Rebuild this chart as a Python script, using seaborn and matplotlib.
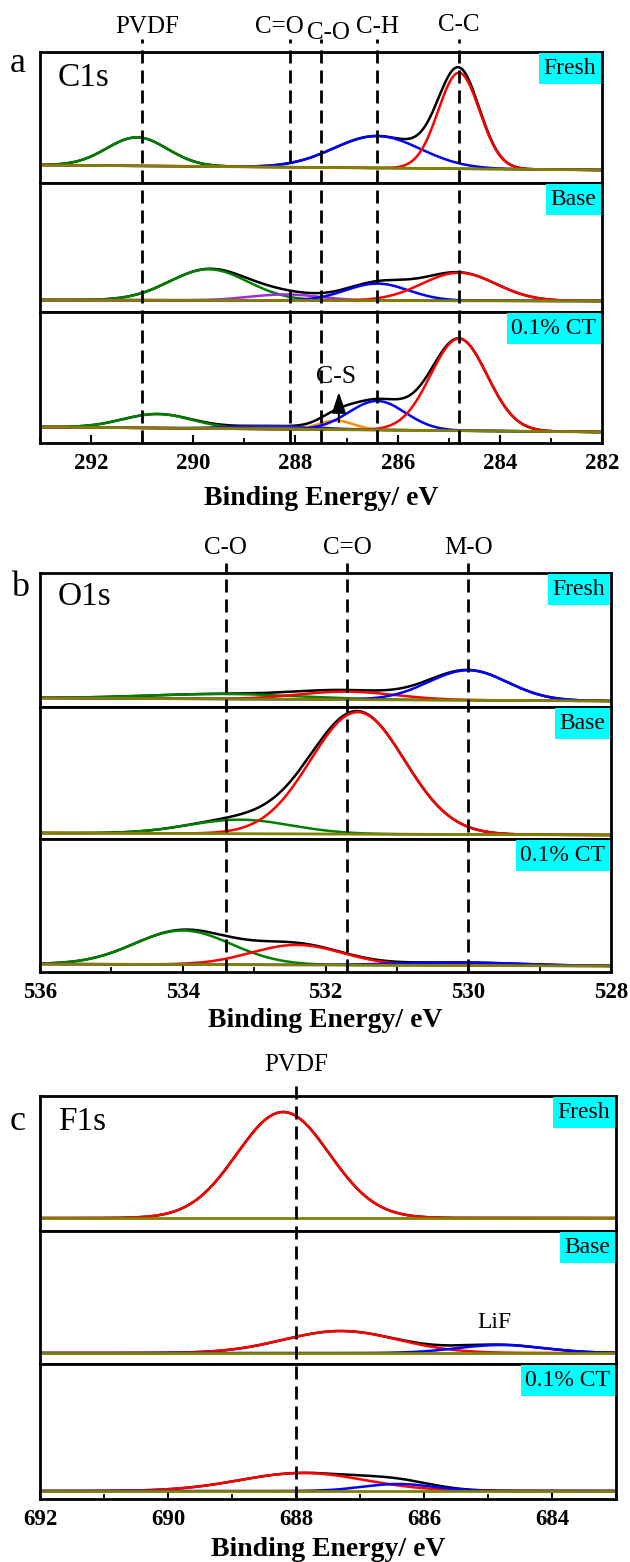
import numpy as np
import matplotlib
matplotlib.use("Agg")
import matplotlib.pyplot as plt
import matplotlib.transforms as mtransforms
from matplotlib.lines import Line2D
from matplotlib.ticker import MultipleLocator
import seaborn as sns

# ====================== DATA ======================
SAMPLES = ["Fresh", "Base", "0.1% CT"]

# ---- C1s ----
C1S_XLIM = (293.0, 282.0)
C1S_TICKS = [292, 290, 288, 286, 284, 282]
C1S_REF_NAMES = ["PVDF", "C=O", "C-O", "C-H", "C-C"]
C1S_REF_POS = [291.0, 288.1, 287.5, 286.4, 284.8]

C1S_FRESH_NAMES = ["PVDF", "C-H", "C-C"]
C1S_FRESH_CENTER = [291.1, 286.4, 284.8]
C1S_FRESH_HEIGHT = [28.5, 32.0, 96.0]
C1S_FRESH_FWHM = [1.4, 2.0, 0.95]
C1S_FRESH_BASELINE = [18.0, 13.0]

C1S_BASE_NAMES = ["PVDF", "C=O", "C-H", "C-C"]
C1S_BASE_CENTER = [289.7, 288.2, 286.4, 284.8]
C1S_BASE_HEIGHT = [31.0, 6.0, 17.0, 28.0]
C1S_BASE_FWHM = [1.8, 1.6, 1.45, 1.7]
C1S_BASE_BASELINE = [12.0, 11.0]

C1S_CT_NAMES = ["PVDF", "C-O", "C-S", "C-H", "C-C"]
C1S_CT_CENTER = [290.7, 288.4, 287.2, 286.4, 284.8]
C1S_CT_HEIGHT = [14.0, 3.0, 9.0, 29.0, 92.0]
C1S_CT_FWHM = [1.6, 2.0, 0.8, 1.3, 1.3]
C1S_CT_BASELINE = [16.0, 11.0]

# ---- O1s ----
O1S_XLIM = (536.0, 528.0)
O1S_TICKS = [536, 534, 532, 530, 528]
O1S_REF_NAMES = ["C-O", "C=O", "M-O"]
O1S_REF_POS = [533.4, 531.7, 530.0]

O1S_FRESH_NAMES = ["C-O", "C=O", "M-O"]
O1S_FRESH_CENTER = [533.4, 531.7, 530.0]
O1S_FRESH_HEIGHT = [5.0, 8.0, 30.0]
O1S_FRESH_FWHM = [2.5, 1.6, 1.3]
O1S_FRESH_BASELINE = [9.0, 6.0]

O1S_BASE_NAMES = ["C-O", "C=O"]
O1S_BASE_CENTER = [533.2, 531.55]
O1S_BASE_HEIGHT = [14.0, 122.0]
O1S_BASE_FWHM = [1.7, 1.55]
O1S_BASE_BASELINE = [6.0, 4.0]

O1S_CT_NAMES = ["C-O", "C=O", "M-O"]
O1S_CT_CENTER = [534.0, 532.4, 530.1]
O1S_CT_HEIGHT = [34.0, 20.0, 3.0]
O1S_CT_FWHM = [1.6, 1.5, 2.0]
O1S_CT_BASELINE = [8.0, 6.0]

# ---- F1s ----
F1S_XLIM = (692.0, 683.0)
F1S_TICKS = [692, 690, 688, 686, 684]
F1S_REF_NAMES = ["PVDF"]
F1S_REF_POS = [688.0]

F1S_FRESH_NAMES = ["PVDF"]
F1S_FRESH_CENTER = [688.2]
F1S_FRESH_HEIGHT = [106.0]
F1S_FRESH_FWHM = [1.7]
F1S_FRESH_BASELINE = [13.0, 13.0]

F1S_BASE_NAMES = ["PVDF", "LiF"]
F1S_BASE_CENTER = [687.3, 684.8]
F1S_BASE_HEIGHT = [22.0, 8.0]
F1S_BASE_FWHM = [2.1, 1.6]
F1S_BASE_BASELINE = [11.0, 11.0]

F1S_CT_NAMES = ["PVDF", "LiF"]
F1S_CT_CENTER = [687.9, 686.4]
F1S_CT_HEIGHT = [18.0, 7.0]
F1S_CT_FWHM = [2.3, 1.3]
F1S_CT_BASELINE = [8.0, 8.0]

# annotations
CS_LABEL = "C-S"
CS_POS = 287.15
LIF_LABEL = "LiF"
LIF_POS = 684.9

# ====================== STYLE / LAYOUT ======================
W, H = 630, 1562
FONT = ["Liberation Serif", "DejaVu Serif"]
GREEN, BLUE, RED, PURPLE, ORANGE, DBLUE = "#008000", "#0000ff", "#ff0000", "#9a30e0", "#ff8c00", "#2020c0"
OLIVE = "#808000"
CYAN = "#00ffff"
LW = 1.8

C1S_COLORS = {"PVDF": GREEN, "C=O": PURPLE, "C-O": DBLUE, "C-S": ORANGE, "C-H": BLUE, "C-C": RED}
O1S_COLORS = {"C-O": GREEN, "C=O": RED, "M-O": BLUE}
F1S_COLORS = {"PVDF": RED, "LiF": BLUE}

sns.set_style("white")
plt.rcParams["font.family"] = FONT
plt.rcParams["text.color"] = "black"
plt.rcParams["axes.labelcolor"] = "black"
plt.rcParams["xtick.color"] = "black"
plt.rcParams["ytick.color"] = "black"
plt.rcParams["axes.edgecolor"] = "black"

PANELS = [
    dict(letter="a", core="C1s", xlim=C1S_XLIM, ticks=C1S_TICKS,
         ref_names=C1S_REF_NAMES, ref_pos=C1S_REF_POS, colors=C1S_COLORS,
         samples=[(C1S_FRESH_NAMES, C1S_FRESH_CENTER, C1S_FRESH_HEIGHT, C1S_FRESH_FWHM, C1S_FRESH_BASELINE),
                  (C1S_BASE_NAMES, C1S_BASE_CENTER, C1S_BASE_HEIGHT, C1S_BASE_FWHM, C1S_BASE_BASELINE),
                  (C1S_CT_NAMES, C1S_CT_CENTER, C1S_CT_HEIGHT, C1S_CT_FWHM, C1S_CT_BASELINE)],
         left=40, right=602, rows=[(52, 183), (183, 312), (312, 443)],
         ref_offsets=[(5, 25), (-11, 25), (7, 19), (0, 25), (0, 27)], dash_ext=13,
         letter_xy=(18, 63), core_off=(18, 26), labelpad=8),
    dict(letter="b", core="O1s", xlim=O1S_XLIM, ticks=O1S_TICKS,
         ref_names=O1S_REF_NAMES, ref_pos=O1S_REF_POS, colors=O1S_COLORS,
         samples=[(O1S_FRESH_NAMES, O1S_FRESH_CENTER, O1S_FRESH_HEIGHT, O1S_FRESH_FWHM, O1S_FRESH_BASELINE),
                  (O1S_BASE_NAMES, O1S_BASE_CENTER, O1S_BASE_HEIGHT, O1S_BASE_FWHM, O1S_BASE_BASELINE),
                  (O1S_CT_NAMES, O1S_CT_CENTER, O1S_CT_HEIGHT, O1S_CT_FWHM, O1S_CT_BASELINE)],
         left=40, right=611, rows=[(573, 707), (707, 839), (839, 972)],
         ref_offsets=[(0, 25), (0, 25), (0, 25)], dash_ext=10,
         letter_xy=(20, 587), core_off=(18, 24), labelpad=3),
    dict(letter="c", core="F1s", xlim=F1S_XLIM, ticks=F1S_TICKS,
         ref_names=F1S_REF_NAMES, ref_pos=F1S_REF_POS, colors=F1S_COLORS,
         samples=[(F1S_FRESH_NAMES, F1S_FRESH_CENTER, F1S_FRESH_HEIGHT, F1S_FRESH_FWHM, F1S_FRESH_BASELINE),
                  (F1S_BASE_NAMES, F1S_BASE_CENTER, F1S_BASE_HEIGHT, F1S_BASE_FWHM, F1S_BASE_BASELINE),
                  (F1S_CT_NAMES, F1S_CT_CENTER, F1S_CT_HEIGHT, F1S_CT_FWHM, F1S_CT_BASELINE)],
         left=40, right=616, rows=[(1096, 1231), (1231, 1364), (1364, 1499)],
         ref_offsets=[(0, 31)], dash_ext=13,
         letter_xy=(18, 1122), core_off=(18, 26), labelpad=4.5),
]

PX2PT = 0.72


def gauss(x, c, h, w):
    return h * np.exp(-4.0 * np.log(2.0) * (x - c) ** 2 / w ** 2)


fig = plt.figure(figsize=(W / 100, H / 100), dpi=100)

for P in PANELS:
    axes = []
    xl = P["xlim"]
    x = np.linspace(xl[1], xl[0], 900)
    for i, (sname, (names, cen, hei, fw, bl)) in enumerate(zip(SAMPLES, P["samples"])):
        top, bot = P["rows"][i]
        ax = fig.add_axes([P["left"] / W, 1 - bot / H, (P["right"] - P["left"]) / W, (bot - top) / H])
        axes.append(ax)
        base = bl[0] + (bl[1] - bl[0]) * (xl[0] - x) / (xl[0] - xl[1])
        comps = [gauss(x, c, h, w) for c, h, w in zip(cen, hei, fw)]
        total = base + np.sum(comps, axis=0)
        sns.lineplot(x=x, y=total, ax=ax, color="black", linewidth=LW, estimator=None, sort=False, legend=False)
        for nm, comp in zip(names, comps):
            sns.lineplot(x=x, y=base + comp, ax=ax, color=P["colors"][nm], linewidth=LW,
                         estimator=None, sort=False, legend=False)
        sns.lineplot(x=x, y=base, ax=ax, color=OLIVE, linewidth=2.0, estimator=None, sort=False, legend=False)
        ax.set_xlim(xl)
        ax.set_ylim(0, bot - top)
        ax.set_yticks([])
        ax.set_ylabel("")
        ax.set_xlabel("")
        for s in ax.spines.values():
            s.set_linewidth(2.0)
            s.set_color("black")
        ax.annotate(sname, xy=(1, 1), xycoords="axes fraction", xytext=(-4.0, -4.2),
                    textcoords="offset points", ha="right", va="top", fontsize=17, color="black",
                    bbox=dict(boxstyle="square,pad=0.2", fc=CYAN, ec="none"))
        if i < 2:
            ax.tick_params(axis="x", which="both", bottom=False, top=False, labelbottom=False)
        else:
            ax.set_xticks(P["ticks"])
            ax.set_xticklabels([f"{t:g}" for t in P["ticks"]], fontweight="bold", fontsize=16.5,
                               color="black")
            ax.xaxis.set_minor_locator(MultipleLocator(1))
            ax.tick_params(axis="x", which="major", direction="in", length=6, width=1.5,
                           bottom=True, top=False, pad=7.5, colors="black")
            ax.tick_params(axis="x", which="minor", direction="in", length=3.5, width=1.3,
                           bottom=True, top=False, colors="black")
            ax.set_xlabel("Binding Energy/ eV", fontsize=20, fontweight="bold",
                          labelpad=P["labelpad"], color="black")

    ax_top, ax_bot = axes[0], axes[-1]
    # core level label
    ax_top.annotate(P["core"], xy=(0, 1), xycoords="axes fraction",
                    xytext=(P["core_off"][0] * PX2PT, -P["core_off"][1] * PX2PT),
                    textcoords="offset points", ha="left", va="center", fontsize=24, color="black")
    # panel letter
    fig.text(P["letter_xy"][0] / W, 1 - P["letter_xy"][1] / H, P["letter"],
             ha="center", va="center", fontsize=26, color="black")
    # reference dashed lines and labels
    y_bottom = 1 - P["rows"][-1][1] / H
    y_top = 1 - (P["rows"][0][0] - P["dash_ext"]) / H
    trans = mtransforms.blended_transform_factory(ax_bot.transData, fig.transFigure)
    for nm, pos, (dx, dy) in zip(P["ref_names"], P["ref_pos"], P["ref_offsets"]):
        fig.add_artist(Line2D([pos, pos], [y_bottom, y_top], transform=trans, color="black",
                              linewidth=2.0, linestyle=(0, (4.7, 2.5)), zorder=5))
        ax_top.annotate(nm, xy=(pos, 1), xycoords=("data", "axes fraction"),
                        xytext=(dx * PX2PT, dy * PX2PT), textcoords="offset points",
                        ha="center", va="center", fontsize=18, color="black", annotation_clip=False)

    if P["core"] == "C1s":
        ax_ct = axes[2]
        ax_ct.annotate("", xy=(CS_POS, 51), xytext=(CS_POS, 21), xycoords="data",
                       arrowprops=dict(arrowstyle="-|>,head_length=0.9,head_width=0.3",
                                       lw=1.5, color="black", mutation_scale=14, shrinkA=0, shrinkB=0))
        ax_ct.text(CS_POS + 0.05, 66, CS_LABEL, ha="center", va="center", fontsize=18.5, color="black")
    if P["core"] == "F1s":
        axes[1].text(LIF_POS, 41, LIF_LABEL, ha="center", va="center", fontsize=17, color="black")

fig.savefig("out.png", dpi=100)
